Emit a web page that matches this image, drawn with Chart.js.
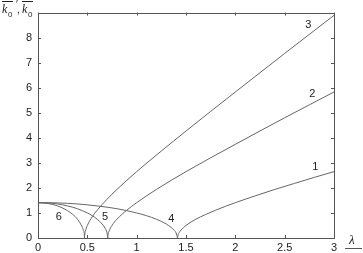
<!DOCTYPE html>
<html>
<head>
<meta charset="utf-8">
<script src="https://cdn.jsdelivr.net/npm/chart.js@4.4.0/dist/chart.umd.min.js"></script>
<style>
  html, body { margin: 0; padding: 0; background: #fff; }
  #wrap { width: 363px; height: 253px; }
</style>
</head>
<body>
<div id="wrap"><canvas id="myChart" width="363" height="253"></canvas></div>
<script>
// values (lambda, k)
var x1 = [1.414, 1.42, 1.43, 1.45, 1.5, 1.6, 1.7, 1.8, 2.0, 2.2, 2.4, 2.6, 2.8, 3.0];
var y1 = [0, 0.13, 0.21, 0.32, 0.5, 0.75, 0.94, 1.11, 1.41, 1.68, 1.94, 2.18, 2.42, 2.65];

var x2 = [0.707, 0.71, 0.72, 0.75, 0.8, 0.9, 1.0, 1.2, 1.5, 2.0, 2.5, 3.0];
var y2 = [0, 0.13, 0.27, 0.5, 0.75, 1.11, 1.41, 1.94, 2.65, 3.74, 4.80, 5.83];

var x3 = [0.471, 0.475, 0.48, 0.5, 0.55, 0.6, 0.7, 0.8, 1.0, 1.5, 2.0, 2.5, 3.0];
var y3 = [0, 0.18, 0.27, 0.5, 0.85, 1.11, 1.55, 1.94, 2.65, 4.27, 5.83, 7.37, 8.89];

var x4 = [0, 0.2, 0.4, 0.6, 0.8, 1.0, 1.1, 1.2, 1.3, 1.35, 1.38, 1.4, 1.414];
var y4 = [1.41, 1.40, 1.36, 1.28, 1.17, 1.0, 0.89, 0.75, 0.56, 0.42, 0.31, 0.2, 0];

var x5 = [0, 0.1, 0.2, 0.3, 0.4, 0.5, 0.55, 0.6, 0.65, 0.68, 0.7, 0.707];
var y5 = [1.41, 1.40, 1.36, 1.28, 1.17, 1.0, 0.89, 0.75, 0.56, 0.39, 0.2, 0];

var x6 = [0, 0.1, 0.2, 0.3, 0.35, 0.4, 0.45, 0.46, 0.47, 0.471];
var y6 = [1.41, 1.38, 1.28, 1.09, 0.95, 0.75, 0.42, 0.31, 0.11, 0];

var xTicks = [0, 0.5, 1, 1.5, 2, 2.5, 3];
var yTicks = [0, 1, 2, 3, 4, 5, 6, 7, 8];

// curve numbers and where they sit (lambda, k)
var curveNames = ['1', '2', '3', '4', '5', '6'];
var nameX = [2.81, 2.78, 2.74, 1.35, 0.68, 0.21];
var nameY = [2.85, 5.75, 8.5, 0.77, 0.84, 0.84];

function pts(xs, ys) {
    return xs.map(function(x, i) { return { x: x, y: ys[i] }; });
}

function line(xs, ys) {
    return {
        data: pts(xs, ys),
        showLine: true,
        borderColor: '#666',
        borderWidth: 1,
        pointRadius: 0,
        cubicInterpolationMode: 'monotone',
        fill: false
    };
}

var boxPlugin = {
    id: 'box',
    afterDraw: function(chart) {
        var c = chart.ctx;
        var a = chart.chartArea;
        var sx = chart.scales.x, sy = chart.scales.y;
        c.save();
        c.strokeStyle = '#555';
        c.lineWidth = 1;
        c.strokeRect(Math.round(a.left) + 0.5, Math.round(a.top) + 0.5,
            Math.round(a.right - a.left), Math.round(a.bottom - a.top));
        // inward ticks on all sides
        xTicks.forEach(function(t) {
            var px = Math.round(sx.getPixelForValue(t)) + 0.5;
            c.beginPath();
            c.moveTo(px, a.bottom); c.lineTo(px, a.bottom - 3);
            c.moveTo(px, a.top); c.lineTo(px, a.top + 3);
            c.stroke();
        });
        yTicks.forEach(function(t) {
            var py = Math.round(sy.getPixelForValue(t)) + 0.5;
            c.beginPath();
            c.moveTo(a.left, py); c.lineTo(a.left + 3, py);
            c.moveTo(a.right, py); c.lineTo(a.right - 3, py);
            c.stroke();
        });
        // curve numbers
        c.fillStyle = '#222';
        c.font = '11px "Liberation Sans", Arial, sans-serif';
        c.textAlign = 'center';
        c.textBaseline = 'middle';
        curveNames.forEach(function(n, i) {
            c.fillText(n, sx.getPixelForValue(nameX[i]), sy.getPixelForValue(nameY[i]));
        });
        // axis names
        c.font = 'italic 13px "Liberation Serif", "DejaVu Serif", serif';
        c.textAlign = 'left';
        c.textBaseline = 'alphabetic';
        c.fillText('\u03bb', 349, 244);
        c.beginPath();
        c.moveTo(345, 248.5); c.lineTo(362, 248.5);
        c.stroke();
        c.font = 'italic 12px "Liberation Serif", "DejaVu Serif", serif';
        c.fillText('k', 2, 13);
        c.fillText('k', 22, 13);
        c.font = '8px "Liberation Sans", Arial, sans-serif';
        c.fillText('0', 8, 17);
        c.fillText('0', 28, 17);
        c.font = '10px "Liberation Sans", Arial, sans-serif';
        c.fillText('\u2032', 16, 8);
        c.fillText(',', 17, 13);
        c.strokeStyle = '#222';
        c.beginPath();
        c.moveTo(2, 1.5); c.lineTo(13, 1.5);
        c.moveTo(22, 1.5); c.lineTo(33, 1.5);
        c.stroke();
        c.restore();
    }
};

var ctx = document.getElementById('myChart');
new Chart(ctx, {
    type: 'scatter',
    data: {
        datasets: [line(x1, y1), line(x2, y2), line(x3, y3), line(x4, y4), line(x5, y5), line(x6, y6)]
    },
    options: {
        responsive: false,
        animation: false,
        layout: { padding: { left: 0, right: 29, top: 1, bottom: 0 } },
        plugins: { legend: { display: false }, tooltip: { enabled: false } },
        scales: {
            x: {
                type: 'linear',
                min: 0,
                max: 3,
                afterBuildTicks: function(scale) {
                    scale.ticks = xTicks.map(function(v) { return { value: v }; });
                },
                afterFit: function(scale) { scale.height = 15; },
                grid: { display: false, drawTicks: false },
                border: { display: false },
                ticks: {
                    color: '#222',
                    padding: 3,
                    maxRotation: 0,
                    font: { family: '"Liberation Sans", Arial, sans-serif', size: 11 },
                    callback: function(v) { return String(v); }
                }
            },
            y: {
                type: 'linear',
                min: 0,
                max: 9,
                afterBuildTicks: function(scale) {
                    scale.ticks = yTicks.map(function(v) { return { value: v }; });
                },
                afterFit: function(scale) { scale.width = 38; },
                grid: { display: false, drawTicks: false },
                border: { display: false },
                ticks: {
                    color: '#222',
                    padding: 6,
                    font: { family: '"Liberation Sans", Arial, sans-serif', size: 11 },
                    callback: function(v) { return String(v); }
                }
            }
        }
    },
    plugins: [boxPlugin]
});
</script>
</body>
</html>
